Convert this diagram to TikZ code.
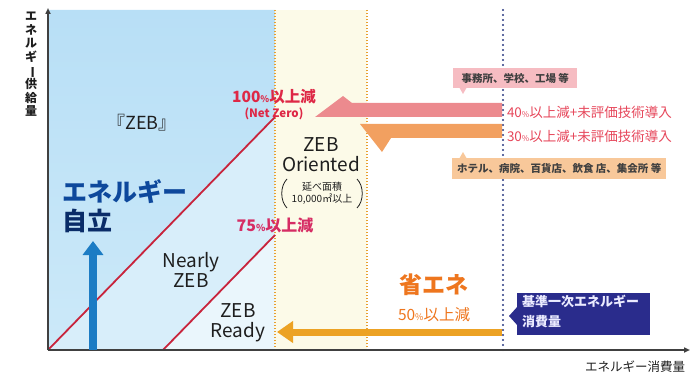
\documentclass[tikz,border=0pt]{standalone}
\usepackage{fontspec}
\setmainfont{Noto Sans CJK JP}
\usetikzlibrary{arrows.meta}
\definecolor{skyA}{RGB}{184,223,246}
\definecolor{skyAb}{RGB}{204,233,249}
\definecolor{skyB}{RGB}{216,238,250}
\definecolor{skyC}{RGB}{234,246,252}
\definecolor{cream}{RGB}{252,250,232}
\definecolor{diagred}{RGB}{200,36,60}
\definecolor{dotorange}{RGB}{232,160,48}
\definecolor{dotnavy}{RGB}{40,56,128}
\definecolor{pinkarr}{RGB}{236,138,142}
\definecolor{orangearr}{RGB}{242,160,96}
\definecolor{goldarr}{RGB}{236,162,36}
\definecolor{bluearr}{RGB}{28,124,196}
\definecolor{redtxt}{RGB}{222,40,70}
\definecolor{pinktxt}{RGB}{214,44,100}
\definecolor{lbltxt}{RGB}{230,70,90}
\definecolor{orangetxt}{RGB}{238,118,30}
\definecolor{jiritsu}{RGB}{14,72,156}
\definecolor{jiritsuB}{RGB}{10,44,104}
\definecolor{pinkbox}{RGB}{246,188,194}
\definecolor{orangebox}{RGB}{248,200,154}
\definecolor{navybox}{RGB}{42,44,140}
\definecolor{ink}{RGB}{30,30,30}
\tikzset{
  txt/.style={inner sep=0pt, outer sep=0pt, text=ink},
  zebtxt/.style={txt, font=\fontsize{19}{21}\selectfont, align=center},
  axisline/.style={line width=1.6pt, draw=ink!85, -{Triangle[length=6pt,width=5pt]}},
  diag/.style={line width=1.8pt, draw=diagred},
  orangedots/.style={draw=dotorange, line width=1.6pt, dash pattern=on 1.3pt off 1.7pt},
  navydots/.style={draw=dotnavy, line width=2.4pt, line cap=round, dash pattern=on 0pt off 5pt},
  tagbox/.style={inner sep=0pt, minimum height=20pt, font=\fontsize{10.5}{12}\bfseries\selectfont, text=ink!85},
}
\newcommand{\pct}[1]{{\fontsize{#1}{#1}\selectfont\%}}
\begin{document}
\begin{tikzpicture}[x=1pt,y=-1pt]
\useasboundingbox (0,0) rectangle (693,377);
% background regions
\shade[top color=skyA, bottom color=skyAb] (48,10) -- (275,10) -- (275,117) -- (48,350) -- cycle;
\fill[skyB] (48,350) -- (275,117) -- (275,235) -- (163,350) -- cycle;
\fill[skyC] (163,350) -- (275,235) -- (275,350) -- cycle;
\fill[cream] (275,10) rectangle (367,350);
% dotted verticals
\coordinate (d1t) at (275,10); \coordinate (d1b) at (275,350);
\coordinate (d2t) at (367,10); \coordinate (d2b) at (367,350);
\coordinate (d3t) at (503,10); \coordinate (d3b) at (503,350);
\draw[orangedots] (d1t) -- (d1b);
\draw[orangedots] (d2t) -- (d2b);
\draw[navydots] (d3t) -- (d3b);
% diagonals
\coordinate (o) at (48,350);
\coordinate (n100) at (275,117);
\coordinate (s75) at (163,350);
\coordinate (n75) at (275,235);
\draw[diag] (o) -- (n100);
\draw[diag] (s75) -- (n75);
% axes
\coordinate (ytop) at (48,8);
\coordinate (xend) at (690,350);
\draw[axisline] (o) -- (ytop);
\draw[axisline] (o) -- (xend);
% axis labels
\node[txt, font=\fontsize{12}{13.6}\bfseries\selectfont, align=center, anchor=north] (ylab) at (31,12)
  {エ\\ネ\\ル\\ギ\\\rotatebox[origin=c]{-90}{ー}\\供\\給\\量};
\node[txt, font=\fontsize{12.5}{14}\selectfont] (xlab) at (635,367) {エネルギー消費量};
% harpoon arrows
\fill[pinkarr] (502,103) -- (352,103) -- (343,96) -- (315,117) -- (502,117) -- cycle;
\fill[orangearr] (502,124) -- (360,124) -- (382,152) -- (391,138) -- (502,138) -- cycle;
% bottom arrow
\coordinate (bstart) at (502,332);
\coordinate (bend) at (277,332);
\draw[goldarr, line width=7pt, -{Triangle[length=16pt,width=21pt]}] (bstart) -- (bend);
% blue up arrow
\coordinate (ubot) at (93,350);
\coordinate (utop) at (93,241);
\draw[bluearr, line width=8pt, -{Triangle[length=14pt,width=20pt]}] (ubot) -- (utop);
% texts left
\node[txt, font=\fontsize{18}{20}\selectfont] (zeb) at (142,123) {『ZEB』};
\node[txt, font=\fontsize{25}{27}\bfseries\selectfont, text=jiritsu, anchor=west] (en) at (62,192) {エネルギー};
\node[txt, font=\fontsize{25}{27}\bfseries\selectfont, text=jiritsuB, anchor=west] (ji) at (62,221) {自立};
\node[txt, font=\fontsize{15.5}{17}\bfseries\selectfont, text=redtxt] (p100) at (274,97) {100\pct{9}以上減};
\node[txt, font=\fontsize{11.5}{13}\bfseries\selectfont, text=redtxt] (nz) at (274,114) {(Net Zero)};
\node[zebtxt] (ori) at (321,155) {ZEB\\[-1pt]Oriented};
\node[txt, font=\fontsize{10}{12.5}\selectfont, align=center] (area) at (322,193) {延べ面積\\10,000㎡以上};
\draw[ink, line width=0.8pt] (287,179) .. controls (280,186) and (280,201) .. (287,208);
\draw[ink, line width=0.8pt] (357,179) .. controls (364,186) and (364,201) .. (357,208);
\node[txt, font=\fontsize{16}{18}\bfseries\selectfont, text=pinktxt] (p75) at (275,225) {75\pct{9.5}以上減};
\node[zebtxt] (nearly) at (191,270) {Nearly\\[-1pt]ZEB};
\node[zebtxt] (ready) at (238,323) {ZEB\\[-1pt]Ready};
% right texts
\node[txt, font=\fontsize{23}{25}\bfseries\selectfont, text=orangetxt] (shoene) at (434,285) {省エネ};
\node[txt, font=\fontsize{15.5}{17}\selectfont, text=orangetxt] (p50) at (434,315) {50\pct{9}以上減};
\node[txt, font=\fontsize{13.5}{15}\selectfont, text=lbltxt, anchor=west] (p40) at (507,112) {40\pct{8}以上減+未評価技術導入};
\node[txt, font=\fontsize{13.5}{15}\selectfont, text=lbltxt, anchor=west] (p30) at (507,136) {30\pct{8}以上減+未評価技術導入};
% tag boxes
\fill[pinkbox] (459,87) -- (463,94) -- (467,87) -- cycle;
\node[tagbox, fill=pinkbox, minimum width=124pt, anchor=north west] (office) at (453,68) {事務所、学校、工場 等};
\fill[orangebox] (459,159) -- (463,152) -- (467,159) -- cycle;
\node[tagbox, fill=orangebox, minimum width=214pt, minimum height=21pt, anchor=north west] (hotel) at (452,158) {ホテル、病院、百貨店、飲食 店、集会所 等};
\fill[navybox] (518,306) -- (509,316) -- (518,326) -- cycle;
\node[inner sep=0pt, fill=navybox, minimum width=133pt, minimum height=42pt, anchor=north west] (kijun) at (517,293) {};
\node[txt, text=white!92!blue, font=\fontsize{13}{20}\bfseries\selectfont, align=left, anchor=north west] (kijunt) at (522,295) {基準一次エネルギー\\消費量};
\end{tikzpicture}
\end{document}
